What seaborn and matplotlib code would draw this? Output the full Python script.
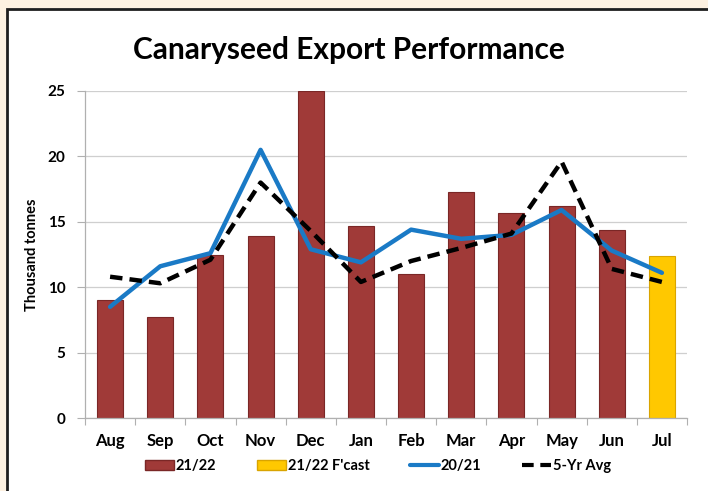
import matplotlib
matplotlib.use("Agg")
import matplotlib.pyplot as plt
import seaborn as sns
import numpy as np
import pandas as pd
from matplotlib.patches import Rectangle, Patch
from matplotlib.lines import Line2D

months = ["Aug", "Sep", "Oct", "Nov", "Dec", "Jan", "Feb", "Mar", "Apr", "May", "Jun", "Jul"]
exports_2122 = [9.0, 7.7, 12.5, 13.9, 25.0, 14.7, 11.0, 17.3, 15.7, 16.2, 14.4, None]
fcast_2122 = [None, None, None, None, None, None, None, None, None, None, None, 12.4]
exports_2021 = [8.5, 11.6, 12.6, 20.5, 12.9, 11.9, 14.4, 13.7, 14.0, 15.9, 12.8, 11.1]
avg_5yr = [10.8, 10.3, 12.1, 18.0, 14.3, 10.4, 12.0, 13.0, 14.1, 19.6, 11.4, 10.4]
y_ticks = [0, 5, 10, 15, 20, 25]

sns.set_theme(style="white")
plt.rcParams['font.family'] = ['Lato', 'DejaVu Sans']
plt.rcParams['text.color'] = 'black'
plt.rcParams['xtick.color'] = 'black'
plt.rcParams['ytick.color'] = 'black'
plt.rcParams['axes.labelcolor'] = 'black'

BAR_RED = "#a03a38"
BAR_YEL = "#ffc800"
BLUE = "#1a7ac6"

rows = []
for m, a, f in zip(months, exports_2122, fcast_2122):
    if a is not None:
        rows.append({"month": m, "value": a, "series": "21/22"})
    if f is not None:
        rows.append({"month": m, "value": f, "series": "21/22 F'cast"})
df = pd.DataFrame(rows)

fig = plt.figure(figsize=(7.08, 4.91), dpi=100)
fig.patch.set_facecolor("#fdf1e1")
frame = Rectangle((7/708, -0.05), 1.1, 1 - 9/491 + 0.05, transform=fig.transFigure,
                  facecolor="white", edgecolor="#1e1e1e", linewidth=2.0, zorder=-10)
fig.patches.append(frame)

ax = fig.add_axes([85/708, 1 - 418/491, (687 - 85)/708, (418 - 91)/491])
ax.set_zorder(5)
ax.set_facecolor("none")

sns.barplot(data=df, x="month", y="value", hue="series", order=months,
            palette={"21/22": BAR_RED, "21/22 F'cast": BAR_YEL}, dodge=False,
            width=0.52, ax=ax, legend=False, saturation=1)
for p in ax.patches:
    fc = p.get_facecolor()
    if abs(fc[0] - 1.0) < 0.01:
        p.set_edgecolor("#d9a400")
    else:
        p.set_edgecolor("#7a2726")
    p.set_linewidth(0.8)
    p.set_zorder(2)

x = np.arange(len(months))
sns.lineplot(x=x, y=exports_2021, ax=ax, color=BLUE, linewidth=3.2, sort=False, zorder=3)
sns.lineplot(x=x, y=avg_5yr, ax=ax, color="black", linewidth=3.2, sort=False, zorder=4)
ax.lines[-1].set_dashes([2.8, 1.6])

ax.set_xlim(-0.5, 11.5)
ax.set_ylim(0, 25)
ax.set_yticks(y_ticks)
ax.set_yticklabels([str(t) for t in y_ticks], fontsize=11, fontweight="bold")
ax.set_xticks(x)
ax.set_xticklabels(months, fontsize=12, fontweight="bold")
ax.set_xticks(np.arange(-0.5, 12, 1), minor=True)
ax.tick_params(axis="x", which="major", length=0, pad=11)
ax.tick_params(axis="x", which="minor", length=5, color="#b0b0b0", width=0.8, direction="out", bottom=True)
ax.tick_params(axis="y", which="major", length=6, color="#b0b0b0", width=0.8, direction="out", left=True, pad=8)
ax.yaxis.grid(True, color="#cfcfcf", linewidth=0.9)
ax.set_axisbelow(True)
for s in ["top", "right"]:
    ax.spines[s].set_visible(False)
for s in ["left", "bottom"]:
    ax.spines[s].set_color("#b0b0b0")
    ax.spines[s].set_linewidth(0.9)
ax.set_xlabel("")
ax.set_ylabel("Thousand tonnes", fontsize=10.5, fontweight="bold", labelpad=6)

fig.text(349/708, 1 - 50/491, "Canaryseed Export Performance", ha="center", va="center",
         fontsize=21.5, fontweight="bold", color="black")

handles = [Patch(facecolor=BAR_RED, edgecolor="#7a2726"),
           Patch(facecolor=BAR_YEL, edgecolor="#d9a400"),
           Line2D([0], [0], color=BLUE, linewidth=3.0),
           Line2D([0], [0], color="black", linewidth=3.0, dashes=[2.8, 1.6])]
labels = ["21/22", "21/22 F'cast", "20/21", "5-Yr Avg"]
fig.legend(handles, labels, loc="center", bbox_to_anchor=(378/708, 1 - 466/491), ncol=4,
           frameon=False, prop={"weight": "bold", "size": 10.5}, handlelength=2.0,
           handleheight=0.7, handletextpad=0.1, columnspacing=2.8)

fig.savefig("out.png", dpi=100, facecolor=fig.get_facecolor())
